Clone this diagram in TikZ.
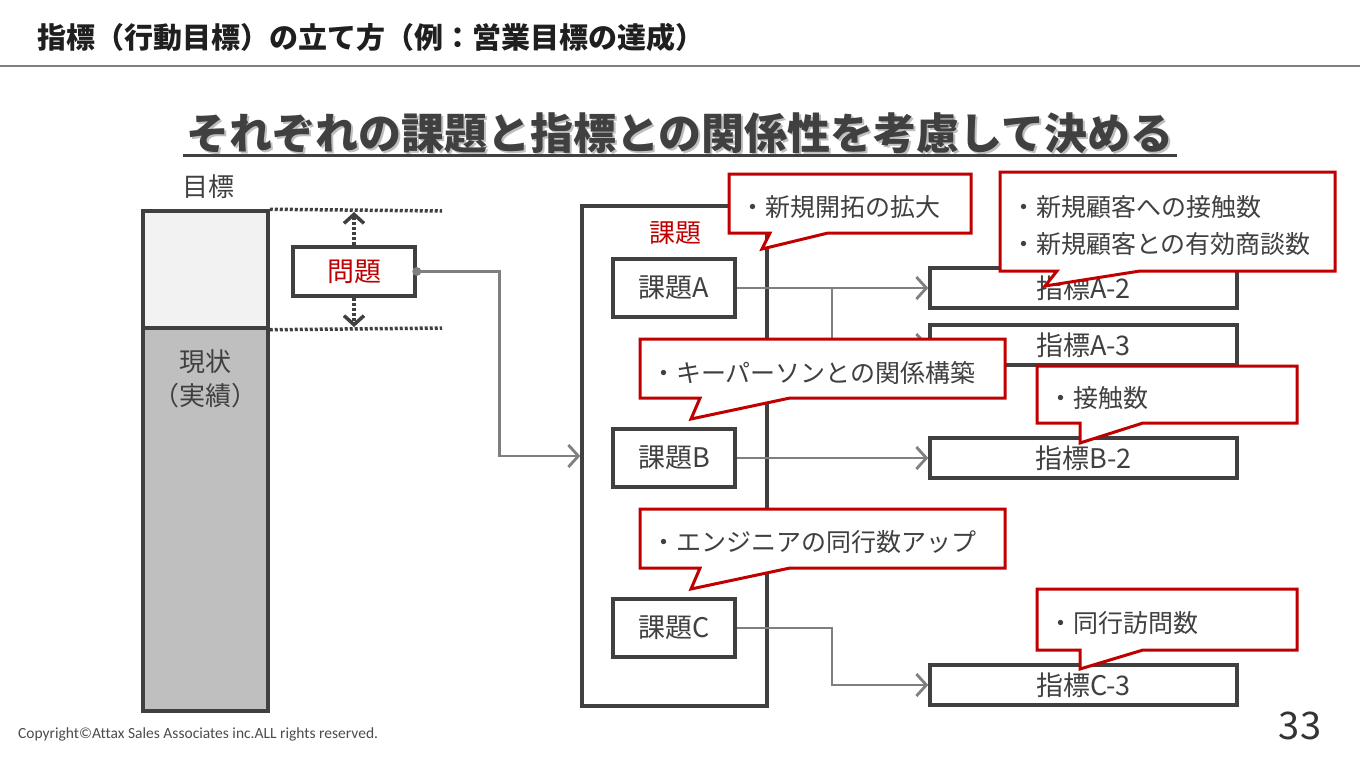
\documentclass[tikz,border=0pt]{standalone}
\usepackage{fontspec}
\setmainfont{Noto Sans CJK JP}
\newfontfamily\cpfont{Carlito}[Ligatures=NoCommon]
\usetikzlibrary{arrows.meta}
\definecolor{dk}{HTML}{404040}
\definecolor{rd}{HTML}{C00000}
\definecolor{cg}{HTML}{7F7F7F}
\definecolor{topfill}{HTML}{F2F2F2}
\definecolor{botfill}{HTML}{BFBFBF}
\newcommand\fsz[1]{\fontsize{#1}{#1}\selectfont}
\tikzset{
  box/.style={draw=dk, line width=3.5pt, fill=white, text=dk, font=\fsz{27}, inner sep=0pt},
  conn/.style={draw=cg, line width=2.8pt},
  arr/.style={-{Straight Barb[length=10pt,width=22pt,line width=2.8pt]}},
  callout/.style={draw=rd, fill=white, line width=3pt, line join=miter},
  ctext/.style={text=dk, font=\fsz{25}, anchor=west, inner sep=0pt, align=left},
  dotline/.style={draw=dk, line width=3.5pt, dash pattern=on 3pt off 2pt},
  plain/.style={inner sep=0pt, text=dk},
}
\begin{document}
\begin{tikzpicture}[x=1pt,y=-1pt]
\useasboundingbox[fill=white] (0,0) rectangle (1360,766);

% header
\node[plain, anchor=west, text=black!88, font=\fsz{29}\bfseries] (head) at (37,37) {指標（行動目標）の立て方（例：営業目標の達成）};
\draw[cg, line width=2pt] (0,66) -- (1360,66);

% subtitle
\node[plain, text=black!25, font=\fsz{43}\bfseries] (subsh) at (682,135) {それぞれの課題と指標との関係性を考慮して決める};
\node[plain, font=\fsz{43}\bfseries] (sub) at (680,133) {それぞれの課題と指標との関係性を考慮して決める};
\draw[dk, line width=3pt] (183,155) -- (1177,155);

% left bar
\node[plain, font=\fsz{26}] (goal) at (208,187) {目標};
\node[draw=dk, line width=3.5pt, fill=topfill, minimum width=125pt, minimum height=117pt, inner sep=0pt] (bartop) at (205.5,269.5) {};
\node[draw=dk, line width=3.5pt, fill=botfill, minimum width=125pt, minimum height=383pt, inner sep=0pt] (barbot) at (205.5,519.5) {};
\node[plain, font=\fsz{26}, align=center] (genjo) at (205,379) {現状\\[8pt]（実績）};

\draw[dotline] (bartop.north east) -- (442,211);
\draw[dotline] (bartop.south east) -- (442,328);

% problem box
\node[box, minimum width=122pt, minimum height=49pt, text=rd] (mondai) at (354,271.5) {問題};
\coordinate (gtop) at (354,212);
\coordinate (gbot) at (354,327);
\draw[dotline, -{Straight Barb[length=9pt,width=20pt,line width=3.5pt]}] (mondai.north) -- (gtop);
\draw[dotline, -{Straight Barb[length=9pt,width=20pt,line width=3.5pt]}] (mondai.south) -- (gbot);

% container
\node[draw=dk, line width=3.5pt, minimum width=185pt, minimum height=500pt, inner sep=0pt] (cont) at (674.5,456) {};
\node[plain, text=rd, font=\fsz{26}] (kadai) at (675,233) {課題};

% connector problem -> container
\draw[conn, arr] (mondai.east) -- ++(83,0) |- (cont.west);
\fill[cg] (mondai.east) circle (4.5pt);

% kadai boxes
\node[box, minimum width=122pt, minimum height=58pt] (ka) at (674,288) {課題A};
\node[box, minimum width=122pt, minimum height=58pt] (kb) at (674,458) {課題B};
\node[box, minimum width=122pt, minimum height=58pt] (kc) at (674,628) {課題C};

% shihyo boxes
\node[box, minimum width=307pt, minimum height=40pt] (a2) at (1083.5,288) {指標A-2};
\node[box, minimum width=307pt, minimum height=40pt] (a3) at (1083.5,345) {指標A-3};
\node[box, minimum width=307pt, minimum height=40pt] (b2) at (1083.5,458) {指標B-2};
\node[box, minimum width=307pt, minimum height=40pt] (c3) at (1083.5,685) {指標C-3};

% connectors
\draw[conn, arr] (ka.east) -- (a2.west);
\coordinate (brA) at (832,288);
\draw[conn, arr] (brA) |- (a3.west);
\draw[conn, arr] (kb.east) -- (b2.west);
\draw[conn, arr] (kc.east) -- (832,628) |- (c3.west);

% callouts
\draw[callout] (729,174) -- (971,174) -- (971,233) -- (828,233) -- (762,249) -- (770,233) -- (729,233) -- cycle;
\node[ctext] (c1) at (740,207) {・新規開拓の拡大};

\draw[callout] (1000,172) -- (1335,172) -- (1335,271) -- (1140,271) -- (1045,286) -- (1057,271) -- (1000,271) -- cycle;
\node[ctext] (c2) at (1011,226) {・新規顧客への接触数\\[12pt]・新規顧客との有効商談数};

\draw[callout] (640,339) -- (1005,339) -- (1005,398) -- (790,398) -- (691,419) -- (700,398) -- (640,398) -- cycle;
\node[ctext] (c3t) at (651,373) {・キーパーソンとの関係構築};

\draw[callout] (1037,366) -- (1297,366) -- (1297,423) -- (1143,423) -- (1080,443) -- (1080,423) -- (1037,423) -- cycle;
\node[ctext] (c4) at (1048,398) {・接触数};

\draw[callout] (640,509) -- (1005,509) -- (1005,568) -- (790,568) -- (691,589) -- (700,568) -- (640,568) -- cycle;
\node[ctext] (c5) at (651,542) {・エンジニアの同行数アップ};

\draw[callout] (1037,589) -- (1297,589) -- (1297,650) -- (1143,650) -- (1080,669) -- (1080,650) -- (1037,650) -- cycle;
\node[ctext] (c6) at (1048,623) {・同行訪問数};

% footer
\node[plain, anchor=west, text=black!70, font=\cpfont\fsz{15.5}] (copy) at (18,734) {Copyright©Attax Sales Associates inc.ALL rights reserved.};
\node[plain, text=black!80, font=\fsz{38}] (page) at (1300,726) {33};
\end{tikzpicture}
\end{document}
